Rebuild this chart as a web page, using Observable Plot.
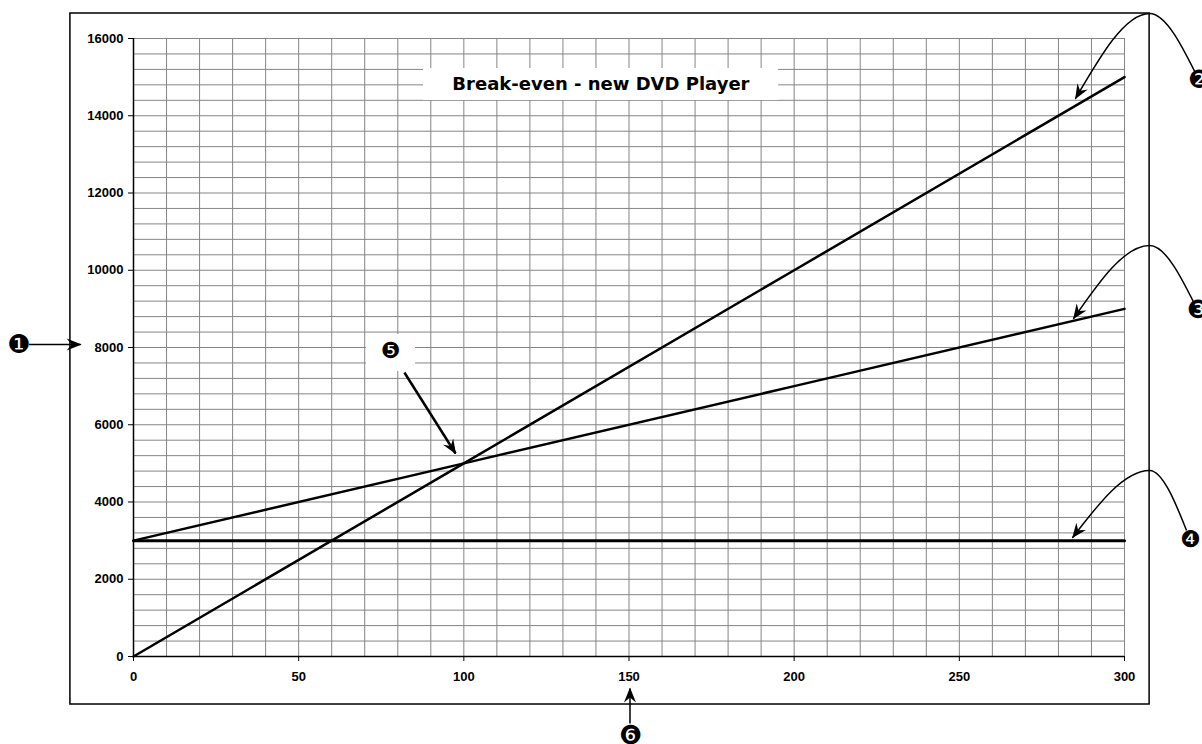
<!DOCTYPE html>
<html><head><meta charset="utf-8">
<script src="https://cdn.jsdelivr.net/npm/d3@7"></script>
<script src="https://cdn.jsdelivr.net/npm/@observablehq/plot@0.6"></script>
<style>html,body{margin:0;padding:0;background:#fff;overflow:hidden}</style>
</head><body><div id="chart"></div>
<script>
// ---- data ----
const units = [0, 100, 200, 300];
const revenue = [0, 5000, 10000, 15000];
const totalCost = [3000, 5000, 7000, 9000];
const fixedCost = [3000, 3000, 3000, 3000];
const xTicks = [0, 50, 100, 150, 200, 250, 300];
const yTicks = [0, 2000, 4000, 6000, 8000, 10000, 12000, 14000, 16000];
const title = "Break-even - new DVD Player";
const calloutLabels = ["❶", "❷", "❸", "❹", "❺", "❻"];

// ---- annotation geometry (in data units) ----
const chartArea = [{x1: -19.1, x2: 307.6, y1: -1243, y2: 16647}];
const titleBox = [{x1: 87.8, x2: 195.3, y1: 14395, y2: 15223}];
const titleAt = [{x: 141.5, y: 14809}];
const labelBox5 = [{x1: 70.5, x2: 85.4, y1: 7379, y2: 8337}];
const labelPos = [
  {x: -34.7, y: 8078, s: 26}, {x: 322.6, y: 14913, s: 25}, {x: 322.2, y: 8958, s: 25},
  {x: 319.9, y: 3021, s: 23}, {x: 77.8, y: 7922, s: 22}, {x: 150.5, y: -2045, s: 26}
];
const curveIds = ["c2", "c3", "c4"];
const curvePts = [
  [[285.2, 14447], [307.6, 16647], [322.6, 14913]],
  [[284.6, 8751], [307.6, 10641], [322.2, 8958]],
  [[284.3, 3081], [307.6, 4816], [319.9, 3021]]
];
const pointers = [
  {x1: -31.8, y1: 8078, x2: -16.0, y2: 8078, w: 1.5},
  {x1: 82.0, y1: 7353, x2: 97.5, y2: 5256, w: 2.5},
  {x1: 150.3, y1: -1735, x2: 150.3, y2: -828, w: 1.5}
];

const series = [
  {name: "revenue", vals: revenue, w: 2.5},
  {name: "total", vals: totalCost, w: 2.5},
  {name: "fixed", vals: fixedCost, w: 3}
];
const lineData = series.flatMap(s => units.map((u, i) => ({series: s.name, x: u, y: s.vals[i], w: s.w})));
const curveData = curveIds.flatMap((id, k) => curvePts[k].map(([x, y]) => ({id, x, y})));
const labels = calloutLabels.map((t, i) => ({...labelPos[i], t}));

const plot = Plot.plot({
  width: 1202,
  height: 744,
  marginLeft: 133,
  marginRight: 78,
  marginTop: 38,
  marginBottom: 88,
  x: {domain: [0, 300], label: null},
  y: {domain: [0, 16000], label: null},
  style: {fontFamily: "'Liberation Sans', Arial, sans-serif", fontWeight: "bold", fontSize: "13px", color: "black", background: "white"},
  marks: [
    Plot.gridX({interval: 10, stroke: "#858585", strokeOpacity: 1, strokeWidth: 1}),
    Plot.gridY({interval: 400, stroke: "#858585", strokeOpacity: 1, strokeWidth: 1}),
    Plot.ruleX([0], {stroke: "black", strokeWidth: 1.5}),
    Plot.ruleY([0], {stroke: "black", strokeWidth: 1.5}),
    Plot.axisX({ticks: xTicks, tickSize: 5, tickPadding: 10, tickFormat: d3.format("d"), fontSize: 13, fontWeight: "bold", stroke: "black"}),
    Plot.axisY({ticks: yTicks, tickSize: 5, tickPadding: 5, tickFormat: d3.format("d"), fontSize: 13, fontWeight: "bold", stroke: "black"}),
    Plot.rect(chartArea, {x1: "x1", x2: "x2", y1: "y1", y2: "y2", fill: "none", stroke: "black", strokeWidth: 1.5}),
    Plot.rect(titleBox, {x1: "x1", x2: "x2", y1: "y1", y2: "y2", fill: "white"}),
    Plot.text(titleAt, {x: "x", y: "y", text: () => title, fontFamily: "'DejaVu Sans', Verdana, sans-serif", fontWeight: "bold", fontSize: 18, fill: "black"}),
    Plot.rect(labelBox5, {x1: "x1", x2: "x2", y1: "y1", y2: "y2", fill: "white"}),
    Plot.line(lineData, {x: "x", y: "y", z: "series", stroke: "black", strokeWidth: "w"}),
    Plot.line(curveData, {x: "x", y: "y", z: "id", curve: "monotone-x", stroke: "black", strokeWidth: 1.5, ariaDescription: "callout-curve"}),
    Plot.link(pointers, {x1: "x1", y1: "y1", x2: "x2", y2: "y2", stroke: "black", strokeWidth: "w", ariaDescription: "callout-pointer"}),
    Plot.dot(labels, {x: "x", y: "y", r: 10, fill: "white"}),
    Plot.text(labels, {x: "x", y: "y", text: "t", fontFamily: "'DejaVu Sans', sans-serif", fontWeight: "normal", fontSize: "s", fill: "black"})
  ]
});

const ns = "http://www.w3.org/2000/svg";
const defs = document.createElementNS(ns, "defs");
const marker = document.createElementNS(ns, "marker");
[["id", "stealth"], ["viewBox", "-16 -8 18 16"], ["refX", "0"], ["refY", "0"], ["markerWidth", "18"], ["markerHeight", "16"], ["markerUnits", "userSpaceOnUse"], ["orient", "auto-start-reverse"]].forEach(([k, v]) => marker.setAttribute(k, v));
const head = document.createElementNS(ns, "path");
head.setAttribute("d", "M1,0 L-14,-6 L-9,0 L-14,6 Z");
head.setAttribute("fill", "black");
head.setAttribute("stroke", "none");
marker.appendChild(head);
defs.appendChild(marker);
plot.insertBefore(defs, plot.firstChild);
plot.querySelectorAll('g[aria-description="callout-curve"] path').forEach(p => p.setAttribute("marker-start", "url(#stealth)"));
plot.querySelectorAll('g[aria-description="callout-pointer"] path').forEach(p => p.setAttribute("marker-end", "url(#stealth)"));
document.getElementById("chart").appendChild(plot);
</script>
</body></html>
